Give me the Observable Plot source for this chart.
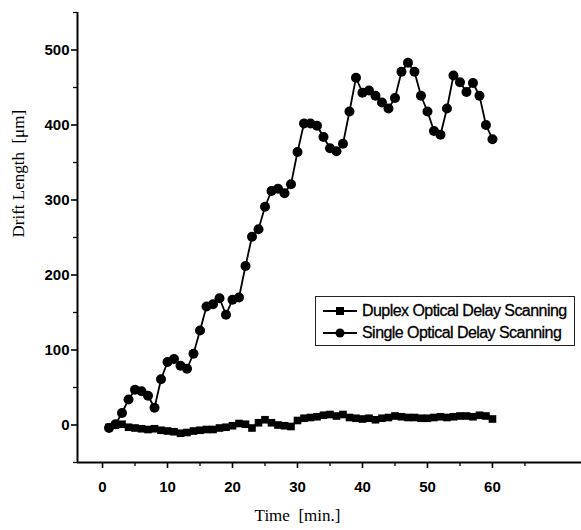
<!DOCTYPE html>
<html>
<head>
<meta charset="utf-8">
<script src="https://cdn.jsdelivr.net/npm/d3@7"></script>
<script src="https://cdn.jsdelivr.net/npm/@observablehq/plot@0.6"></script>
<style>
  html, body { margin: 0; padding: 0; background: #fff; }
  #wrap { position: relative; width: 581px; height: 530px; }
  #legend {
    position: absolute; left: 315px; top: 296px; width: 258px; height: 48px;
    border: 1.2px solid #222; background: #fff;
    font-family: "Liberation Sans", Arial, sans-serif; font-size: 16px;
    letter-spacing: -0.55px; color: #000; -webkit-text-stroke: 0.3px #000;
  }
  .row { position: absolute; left: 6px; height: 22px; display: flex; align-items: center; }
  .row svg { margin-right: 4px; }
</style>
</head>
<body>
<div id="wrap"></div>
<script>
// ---- data ----
const minutes = [1,2,3,4,5,6,7,8,9,10,11,12,13,14,15,16,17,18,19,20,21,22,23,24,25,26,27,28,29,30,
                 31,32,33,34,35,36,37,38,39,40,41,42,43,44,45,46,47,48,49,50,51,52,53,54,55,56,57,58,59,60];
const singleScan = [-4,1,16,34,47,45,39,23,61,84,88,79,75,95,126,158,161,169,147,167,170,212,251,261,291,312,315,309,321,364,
                    402,402,399,384,369,365,375,418,463,443,446,439,430,422,436,471,483,471,439,418,392,387,422,466,457,444,456,439,400,381];
const duplexScan = [-3,0,1,-3,-4,-5,-6,-5,-7,-8,-9,-11,-10,-8,-7,-6,-6,-4,-3,-1,2,1,-4,3,7,3,0,-1,-2,6,
                    9,10,11,13,14,12,14,10,9,8,9,7,9,10,12,11,10,10,9,9,10,11,10,11,12,12,11,13,12,8];
const seriesNames = ["Duplex Optical Delay Scanning", "Single Optical Delay Scanning"];
const xMajor = [0,10,20,30,40,50,60];
const xMinor = [5,15,25,35,45,55,65];
const yMajor = [0,100,200,300,400,500];
const yMinor = [-50,50,150,250,350,450,550];
const xTitle = "Time\u00a0 [min.]";
const yTitle = "Drift Length\u00a0 [\u03bcm]";

const duplex = minutes.map((m, i) => ({minute: m, value: duplexScan[i]}));
const single = minutes.map((m, i) => ({minute: m, value: singleScan[i]}));

const tickFont = {fontFamily: "'Liberation Sans', Arial, sans-serif", fontSize: 15, fill: "#000", fontWeight: "bold"};

const chart = Plot.plot({
  width: 581,
  height: 530,
  marginTop: 12,
  marginBottom: 68,
  marginLeft: 77,
  marginRight: 0,
  x: {domain: [-3.85, 73.7]},
  y: {domain: [-50, 550]},
  style: {background: "#fff", color: "#000", overflow: "visible"},
  marks: [
    Plot.axisX({ticks: xMajor, tickSize: 6, tickPadding: 13, strokeWidth: 1.6, label: null, ...tickFont}),
    Plot.axisX({ticks: xMinor, tickSize: 4, strokeWidth: 1.3, tickFormat: () => "", label: null}),
    Plot.axisY({ticks: yMajor, tickSize: 6, tickPadding: 2, strokeWidth: 1.6, label: null, ...tickFont}),
    Plot.axisY({ticks: yMinor, tickSize: 4, strokeWidth: 1.3, tickFormat: () => "", label: null}),
    Plot.ruleY([-50], {stroke: "#000", strokeWidth: 2}),
    Plot.ruleX([-3.85], {stroke: "#000", strokeWidth: 2}),
    Plot.line(duplex, {x: "minute", y: "value", stroke: "#000", strokeWidth: 2}),
    Plot.dot(duplex, {x: "minute", y: "value", symbol: "square", r: 4.3, fill: "#000", stroke: "none"}),
    Plot.line(single, {x: "minute", y: "value", stroke: "#000", strokeWidth: 1.8}),
    Plot.dot(single, {x: "minute", y: "value", symbol: "circle", r: 5, fill: "#000", stroke: "none"}),
    Plot.text([xTitle], {frameAnchor: "bottom", dy: 58, dx: -32, fontFamily: "'Liberation Serif', 'Times New Roman', serif", fontSize: 17, fill: "#000"}),
    Plot.text([yTitle], {frameAnchor: "left", dx: -59, rotate: -90, fontFamily: "'Liberation Serif', 'Times New Roman', serif", fontSize: 17, fill: "#000"})
  ]
});

const wrap = document.getElementById("wrap");
wrap.appendChild(chart);

// legend overlay
const legend = document.createElement("div");
legend.id = "legend";
const symbols = ["square", "circle"];
seriesNames.forEach((name, i) => {
  const row = document.createElement("div");
  row.className = "row";
  row.style.top = (3 + i * 22) + "px";
  const mk = symbols[i] === "square"
    ? `<rect x="14" y="5" width="8" height="8" fill="#000"/>`
    : `<circle cx="18" cy="9" r="4.5" fill="#000"/>`;
  row.innerHTML = `<svg width="36" height="18"><line x1="1" y1="9" x2="35" y2="9" stroke="#000" stroke-width="2"/>${mk}</svg><span>${name}</span>`;
  legend.appendChild(row);
});
wrap.appendChild(legend);
</script>
</body>
</html>
